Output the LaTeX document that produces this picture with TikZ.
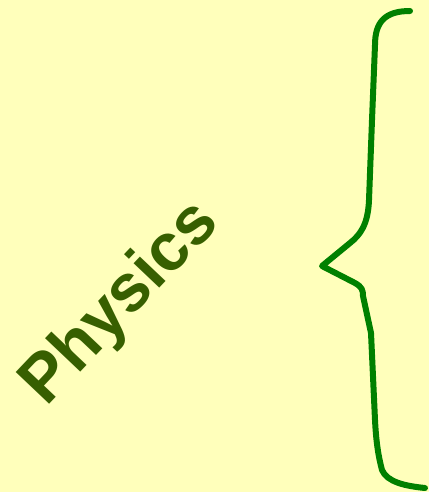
\documentclass[tikz,border=0pt]{standalone}
\usepackage{fontspec}
\setmainfont{Liberation Sans}
\definecolor{paleyellow}{RGB}{255,255,187}
\definecolor{olivetext}{RGB}{55,95,0}
\definecolor{bracegreen}{RGB}{0,128,0}
\begin{document}
\begin{tikzpicture}[x=1pt,y=-1pt,title/.style={text=olivetext,font=\bfseries\fontsize{67}{67}\selectfont,rotate=46.5,inner sep=0pt},brace/.style={draw=bracegreen,line width=6pt,line cap=round,line join=round}]
\fill[paleyellow] (0,0) rectangle (429,492);
\useasboundingbox (0,0) rectangle (429,492);
\node[title] (subj) at (121,304) {Physics};
% the brace
\draw[brace] (410,11) .. controls (385,11) and (375,22) .. (375,45)
  -- (372,120) -- (369,200) .. controls (368,225) and (360,235) .. (350,243)
  -- (322,266) -- (355,283) .. controls (362,287) and (363,290) .. (363,296)
  -- (371,333) -- (375,420) .. controls (376,440) and (378,455) .. (382,470)
  .. controls (387,482) and (405,486) .. (425,488);
\end{tikzpicture}
\end{document}
